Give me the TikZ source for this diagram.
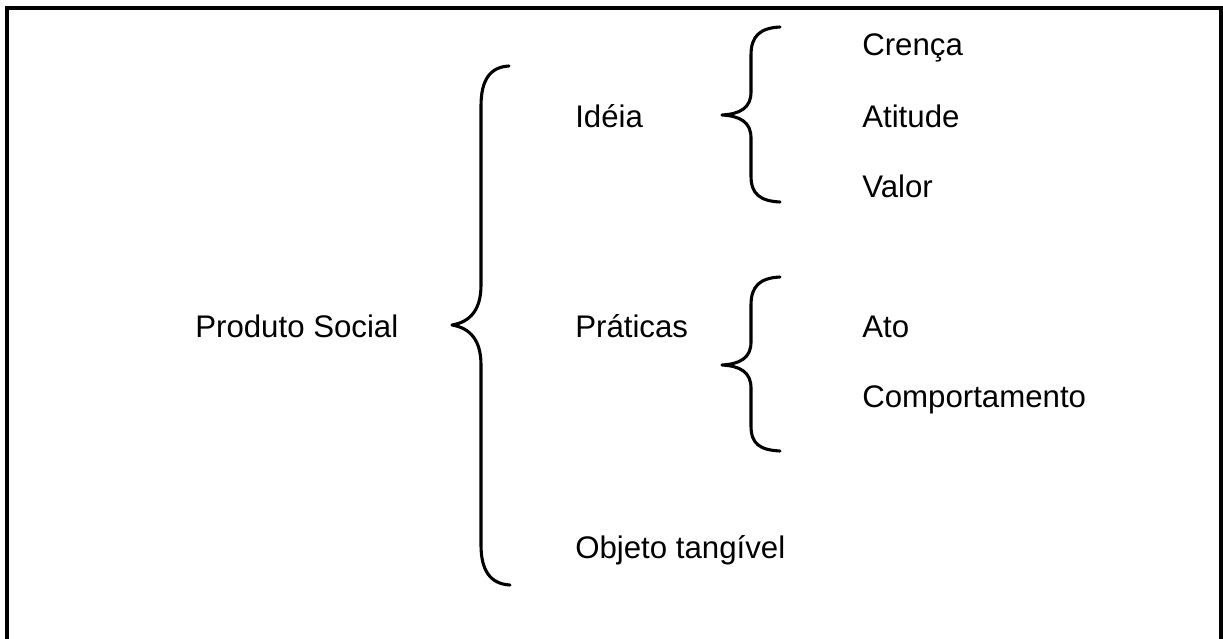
\documentclass[tikz,border=0pt]{standalone}
\usepackage{fontspec}
\setmainfont{Liberation Sans}
\begin{document}
\begin{tikzpicture}[
    x=0.025cm, y=-0.025cm,
    item/.style={anchor=base west, inner sep=0pt, font=\fontsize{22.2}{26}\selectfont},
    bracket/.style={draw, line width=2.2pt, line cap=round, line join=round},
    frame/.style={draw, line width=2.2pt}
]
    \useasboundingbox (0,0) rectangle (1223,638);

    % Frame (open at the bottom)
    \draw[frame] (7,640) -- (7,8) -- (1221,8) -- (1221,640);

    % Items
    \node[item] (prod) at (195,337) {Produto Social};
    \node[item] (ideia) at (575,127) {Idéia};
    \node[item] (praticas) at (575,337) {Práticas};
    \node[item] (objeto) at (575,558) {Objeto tangível};
    \node[item] (crenca) at (862,55) {Crença};
    \node[item] (atitude) at (862,127) {Atitude};
    \node[item] (valor) at (862,197) {Valor};
    \node[item] (ato) at (862,337) {Ato};
    \node[item] (comport) at (862,407) {Comportamento};

    % Braces
    \draw[bracket] (509,66) .. controls (490,67) and (481,80) .. (481,106)
        -- (481,285) .. controls (481,310) and (470,322) .. (452,325)
        .. controls (470,328) and (481,340) .. (481,365)
        -- (481,545) .. controls (481,570) and (490,584) .. (510,585);
    \draw[bracket] (780,27) .. controls (760,28) and (751,36) .. (751,55)
        -- (751,92) .. controls (751,108) and (740,114) .. (722,115)
        .. controls (740,116) and (751,122) .. (751,138)
        -- (751,176) .. controls (751,194) and (760,201) .. (780,202);
    \draw[bracket] (780,277) .. controls (760,278) and (751,286) .. (751,305)
        -- (751,342) .. controls (751,358) and (740,364) .. (722,365)
        .. controls (740,366) and (751,372) .. (751,388)
        -- (751,426) .. controls (751,444) and (760,450) .. (780,451);
\end{tikzpicture}
\end{document}
